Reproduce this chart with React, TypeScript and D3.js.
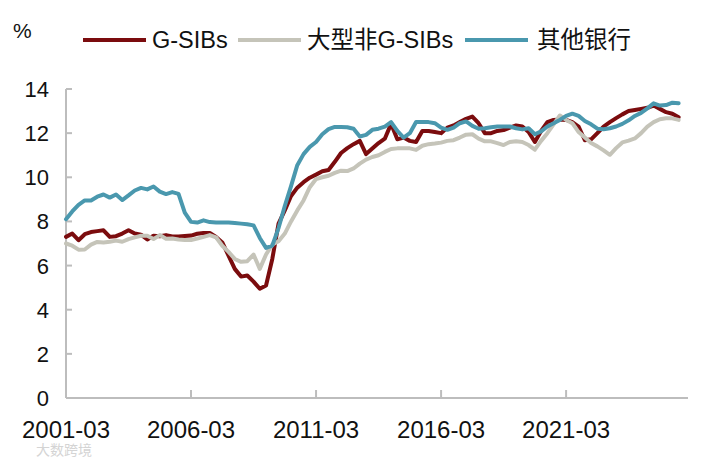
import * as d3 from 'd3';

const startYear = 2001;
const quarters: string[] = [];
for (let i = 0; i < 99; i++) {
  const y = startYear + Math.floor(i / 4);
  const m = ['03', '06', '09', '12'][i % 4];
  quarters.push(`${y}-${m}`);
}

const tickLabels = ['2001-03', '2006-03', '2011-03', '2016-03', '2021-03'];
const yTicks = [0, 2, 4, 6, 8, 10, 12, 14];

const gsibs = [
  7.3, 7.45, 7.15, 7.42, 7.52, 7.56, 7.6, 7.3, 7.33, 7.45,
  7.6, 7.45, 7.4, 7.18, 7.35, 7.33, 7.38, 7.32, 7.32, 7.34,
  7.36, 7.44, 7.48, 7.48, 7.3, 7.05, 6.45, 5.85, 5.5, 5.55,
  5.27, 4.95, 5.1, 6.3, 7.9, 8.5, 9.15, 9.53, 9.78, 9.98,
  10.12, 10.27, 10.33, 10.7, 11.1, 11.32, 11.5, 11.65, 11.05, 11.3,
  11.55, 11.75, 12.42, 11.72, 11.8, 11.65, 11.6, 12.1, 12.1, 12.05,
  12.0, 12.25, 12.35, 12.5, 12.65, 12.75, 12.45, 12.0, 12.0, 12.1,
  12.14, 12.25, 12.35, 12.3, 12.05, 11.6, 12.1, 12.5, 12.6, 12.62,
  12.6, 12.5, 12.3, 11.68, 11.72, 12.0, 12.3, 12.5, 12.68, 12.85,
  13.0, 13.05, 13.1, 13.15, 13.25, 13.1, 12.95, 12.88, 12.72,
];

const largeNonGsibs = [
  7.0, 6.9, 6.72, 6.73, 6.95, 7.07, 7.05, 7.08, 7.13, 7.08,
  7.2, 7.28, 7.35, 7.35, 7.2, 7.38, 7.22, 7.23, 7.18, 7.16,
  7.16, 7.22, 7.3, 7.38, 7.28, 6.9, 6.62, 6.3, 6.17, 6.2,
  6.5, 5.85, 6.5, 6.95, 7.1, 7.45, 8.0, 8.5, 8.95, 9.55,
  9.92, 10.0, 10.07, 10.2, 10.3, 10.28, 10.4, 10.62, 10.8, 10.92,
  11.0, 11.15, 11.28, 11.31, 11.31, 11.31, 11.24, 11.43, 11.5, 11.53,
  11.57, 11.65, 11.68, 11.8, 11.93, 11.95, 11.75, 11.63, 11.63, 11.55,
  11.46, 11.6, 11.63, 11.6, 11.46, 11.25, 11.65, 12.0, 12.4, 12.8,
  12.6, 12.45, 12.05, 11.8, 11.55, 11.4, 11.22, 11.02, 11.32, 11.58,
  11.66, 11.76, 12.0, 12.3, 12.5, 12.63, 12.67, 12.67, 12.6,
];

const otherBanks = [
  8.1, 8.45, 8.75, 8.95, 8.95, 9.12, 9.22, 9.08, 9.22, 8.97,
  9.18, 9.4, 9.52, 9.45, 9.58, 9.35, 9.24, 9.33, 9.25, 8.4,
  7.98, 7.95, 8.05, 7.97, 7.95, 7.95, 7.95, 7.93, 7.9, 7.87,
  7.82, 7.25, 6.8, 6.9, 7.7, 8.7, 9.6, 10.55, 11.05, 11.38,
  11.6, 11.95, 12.18, 12.28, 12.28, 12.27, 12.2, 11.85, 11.92, 12.15,
  12.2, 12.3, 12.5, 12.1, 11.8, 12.0, 12.5, 12.5, 12.5, 12.45,
  12.25, 12.15, 12.25, 12.45, 12.53, 12.33, 12.2, 12.22, 12.27, 12.3,
  12.3, 12.3, 12.22, 12.17, 12.22, 11.95, 12.08, 12.3, 12.45, 12.6,
  12.78, 12.88, 12.78, 12.55, 12.4, 12.2, 12.18, 12.22, 12.3, 12.42,
  12.58, 12.78, 12.92, 13.12, 13.35, 13.25, 13.27, 13.38, 13.35,
];

const series = [
  { name: 'G-SIBs', values: gsibs, color: '#7b0c0e' },
  { name: '大型非G-SIBs', values: largeNonGsibs, color: '#c5c4b9' },
  { name: '其他银行', values: otherBanks, color: '#4a98ae' },
];

const W = 710;
const H = 462;
const left = 66;
const right = 688;
const top = 89;
const bottom = 398;
const font = 'Arial, "Liberation Sans", "Noto Sans CJK SC", sans-serif';
const axisColor = '#bdbdbd';

export default function App() {
  const x = d3.scaleLinear().domain([0, 99.5]).range([left, right]);
  const y = d3.scaleLinear().domain([0, 14]).range([bottom, top]);

  const line = d3
    .line<number>()
    .x((_, i) => x(i))
    .y((d) => y(d));

  const legendX = [83, 238, 465];
  const textX = [152, 307, 537];

  return (
    <svg
      width={W}
      height={H}
      style={{ position: 'absolute', left: 0, top: 0, background: '#fff' }}
      fontFamily={font}
    >
      <text x={13} y={38} fontSize={21} fill="#111">%</text>

      {series.map((s, i) => (
        <g key={s.name}>
          <line
            x1={legendX[i]}
            x2={legendX[i] + 63}
            y1={40}
            y2={40}
            stroke={s.color}
            strokeWidth={4.2}
          />
          <text x={textX[i]} y={48} fontSize={23.5} fill="#111">
            {s.name}
          </text>
        </g>
      ))}

      {/* axes */}
      <line x1={left} x2={left} y1={top} y2={bottom} stroke={axisColor} strokeWidth={2} />
      <line x1={left} x2={right} y1={bottom} y2={bottom} stroke={axisColor} strokeWidth={2} />
      {yTicks.map((t) => (
        <g key={t}>
          <line x1={left} x2={left + 6} y1={y(t)} y2={y(t)} stroke={axisColor} strokeWidth={2} />
          <text x={49} y={y(t) + 8} fontSize={22} textAnchor="end" fill="#111">
            {t}
          </text>
        </g>
      ))}
      {tickLabels.map((lbl) => {
        const idx = quarters.indexOf(lbl);
        return (
          <g key={lbl}>
            {idx > 0 && (
              <line x1={x(idx)} x2={x(idx)} y1={bottom} y2={bottom - 8} stroke={axisColor} strokeWidth={2} />
            )}
            <text x={x(idx)} y={438} fontSize={24} textAnchor="middle" fill="#111">
              {lbl}
            </text>
          </g>
        );
      })}

      {series.map((s) => (
        <path
          key={s.name}
          d={line(s.values) ?? ''}
          fill="none"
          stroke={s.color}
          strokeWidth={4}
          strokeLinejoin="round"
          strokeLinecap="round"
        />
      ))}

      <text x={36} y={455} fontSize={14} fill="#d4d4d4">大数跨境</text>
    </svg>
  );
}
